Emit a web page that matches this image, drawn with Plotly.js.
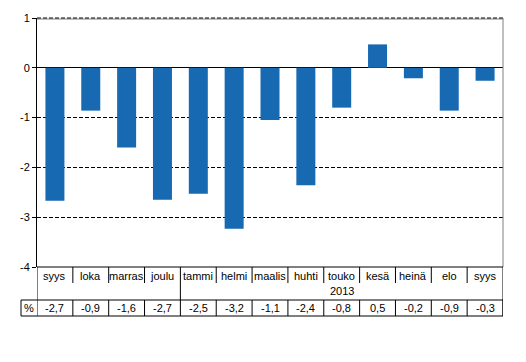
<!DOCTYPE html>
<html>
<head>
<meta charset="utf-8">
<script src="https://cdn.plot.ly/plotly-3.0.1.min.js"></script>
<style>html,body{margin:0;padding:0;background:#fff;}#chart{width:526px;height:362px;}</style>
</head>
<body>
<div id="chart"></div>
<script>
// Data
var months = ["syys","loka","marras","joulu","tammi","helmi","maalis","huhti","touko","kesä","heinä","elo","syys"];
var values = [-2.67,-0.86,-1.60,-2.65,-2.53,-3.23,-1.05,-2.36,-0.80,0.47,-0.21,-0.86,-0.26];
var valueLabels = ["-2,7","-0,9","-1,6","-2,7","-2,5","-3,2","-1,1","-2,4","-0,8","0,5","-0,2","-0,9","-0,3"];
var yearLabel = "2013";
var yearStartIndex = 4;
var unitLabel = "%";
var yTicks = [1,0,-1,-2,-3,-4];
var yTickText = ["1","0","-1","-2","-3","-4"];

// Layout geometry (pixels)
var W = 526, H = 362;
var L = 37, R = 503, T = 18, B = 267;
function py(p){ return (B - p) / (B - T); }
function px(p){ return (p - L) / (R - L); }

var font = {family: "Liberation Sans, Arial, sans-serif", size: 11, color: "#000"};
var idx = months.map(function(_, i){ return i; });
var n = months.length;

var shapes = [];
var annotations = [];
function vline(x, y0, y1, color, xref){
  shapes.push({type:"line", xref: xref || "x", yref:"paper", x0:x, x1:x, y0:py(y0), y1:py(y1), line:{color:color||"#000", width:1}});
}
function hline(x0, x1, y, color){
  shapes.push({type:"line", xref:"paper", yref:"paper", x0:x0, x1:x1, y0:py(y), y1:py(y), line:{color:color||"#000", width:1}});
}
// plot border (gray top and right)
shapes.push({type:"line", xref:"paper", yref:"paper", x0:0, x1:1, y0:py(19), y1:py(19), line:{color:"#808080", width:1}});
shapes.push({type:"line", xref:"paper", yref:"paper", x0:0, x1:1, y0:1, y1:1, line:{color:"#000", width:1, dash:"4px,2px"}});
shapes.push({type:"line", xref:"paper", yref:"paper", x0:1, x1:1, y0:0, y1:1, line:{color:"#808080", width:1}});
// Table
hline(0, 1, 267);
for (var i = 1; i < n; i++) {
  if (i === yearStartIndex) vline(i - 0.5, 267, 300);
  else vline(i - 0.5, 267, 283);
}
vline(-0.5, 267, 300);
vline(n - 0.5, 267, 316);
hline(px(21), 1, 300);
hline(px(21), 1, 316);
vline(px(21), 300, 316, "#000", "paper");
for (var j = 0; j <= n; j++) vline(j - 0.5, 300, 316);

for (var k = 0; k < n; k++) {
  annotations.push({xref:"x", yref:"paper", x:k, y:py(275.5), text:months[k], showarrow:false, font:font, xanchor:"center", yanchor:"middle"});
  annotations.push({xref:"x", yref:"paper", x:k, y:py(308), text:valueLabels[k], showarrow:false, font:font, xanchor:"center", yanchor:"middle"});
}
annotations.push({xref:"x", yref:"paper", x:8, y:py(291), text:yearLabel, showarrow:false, font:font, xanchor:"center", yanchor:"middle"});
annotations.push({xref:"paper", yref:"paper", x:px(29), y:py(308), text:unitLabel, showarrow:false, font:font, xanchor:"center", yanchor:"middle"});

var trace = {type:"bar", x: idx, y: values, marker:{color:"#1769b2", line:{width:0}}, hoverinfo:"none"};

var layout = {
  width: W, height: H,
  margin: {l: L, r: W - R, t: T, b: H - B, pad: 0},
  paper_bgcolor: "#fff", plot_bgcolor: "#fff",
  showlegend: false,
  bargap: 0.47,
  font: font,
  xaxis: {range: [-0.5, n - 0.5], showticklabels: false, ticks: "", showgrid: false, zeroline: false, showline: false, fixedrange: true},
  yaxis: {range: [-4, 1], tickvals: yTicks, ticktext: yTickText, ticks: "outside", ticklen: 4, tickcolor: "#000", tickwidth: 1,
          showline: true, linecolor: "#000", linewidth: 1, showgrid: true, gridcolor: "#000", griddash: "4px,2px", gridwidth: 1,
          zeroline: true, zerolinecolor: "#000", zerolinewidth: 1, tickfont: font, fixedrange: true},
  shapes: shapes,
  annotations: annotations
};
Plotly.newPlot("chart", [trace], layout, {displayModeBar: false, staticPlot: true});
</script>
</body>
</html>
